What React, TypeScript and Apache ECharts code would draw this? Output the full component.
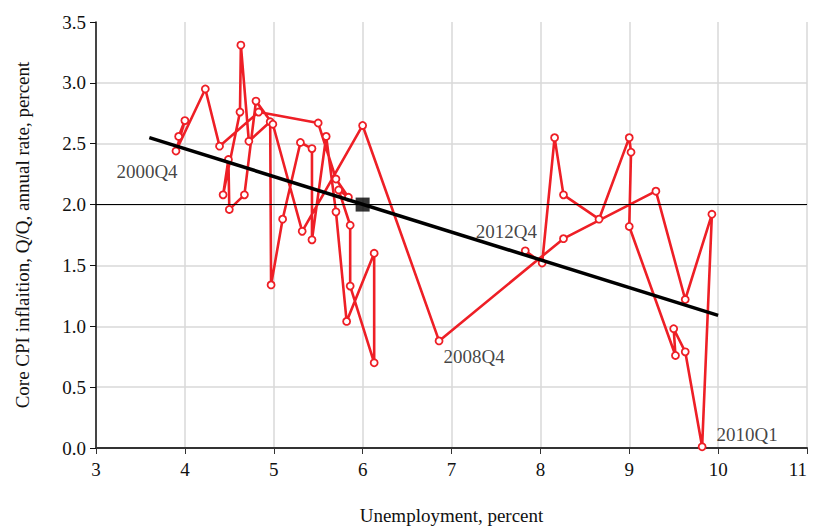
import React, { useEffect, useRef } from "react";
import * as echarts from "echarts";

const quarters = [
  "2000Q2", "2000Q3", "2000Q4",
  "2001Q1", "2001Q2", "2001Q3", "2001Q4",
  "2002Q1", "2002Q2", "2002Q3", "2002Q4",
  "2003Q1", "2003Q2", "2003Q3", "2003Q4",
  "2004Q1", "2004Q2", "2004Q3", "2004Q4",
  "2005Q1", "2005Q2", "2005Q3", "2005Q4",
  "2006Q1", "2006Q2", "2006Q3", "2006Q4",
  "2007Q1", "2007Q2", "2007Q3", "2007Q4",
  "2008Q1", "2008Q2", "2008Q3", "2008Q4",
  "2009Q1", "2009Q2", "2009Q3", "2009Q4",
  "2010Q1", "2010Q2", "2010Q3", "2010Q4",
  "2011Q1", "2011Q2", "2011Q3", "2011Q4",
  "2012Q1", "2012Q2", "2012Q3", "2012Q4",
];

const unemployment = [
  3.93, 4.0, 3.9,
  4.23, 4.39, 4.83, 5.5,
  5.7, 5.84, 5.73, 5.86,
  5.86, 6.13, 6.13, 5.82,
  5.7, 5.59, 5.43, 5.43,
  5.3, 5.1, 4.97, 4.96,
  4.72, 4.63, 4.62, 4.43,
  4.49, 4.5, 4.67, 4.8,
  4.99, 5.32, 6.0, 6.86,
  8.26, 9.3, 9.63, 9.93,
  9.82, 9.63, 9.5, 9.52,
  9.0, 9.02, 9.0, 8.66,
  8.26, 8.16, 8.02, 7.83,
];

const inflation = [
  2.56, 2.69, 2.44,
  2.95, 2.48, 2.76, 2.67,
  2.21, 2.06, 2.12, 1.83,
  1.33, 0.7, 1.6, 1.04,
  1.94, 2.56, 1.71, 2.46,
  2.51, 1.88, 1.34, 2.68,
  2.52, 3.31, 2.76, 2.08,
  2.37, 1.96, 2.08, 2.85,
  2.66, 1.78, 2.65, 0.88,
  1.72, 2.11, 1.22, 1.92,
  0.01, 0.79, 0.98, 0.76,
  1.82, 2.43, 2.55, 1.88,
  2.08, 2.55, 1.52, 1.62,
];

const labeledQuarters = ["2000Q4", "2008Q4", "2010Q1", "2012Q4"];
const labelOffsets: number[][] = [[-29, 20], [35, 16], [45, -12], [-19, -19]];

const trendX = [3.6, 10.0];
const trendY = [2.55, 1.09];

const targetInflation = 2.0;
const anchorPoint = [6.0, 2.0];

const xTicks = { min: 3, max: 11, interval: 1 };
const yTicks = { min: 0, max: 3.5, interval: 0.5 };

const RED = "#ee1f26";
const FONT = "'Liberation Serif', 'DejaVu Serif', serif";
const TEXT = "#111";

export default function App() {
  const ref = useRef<HTMLDivElement>(null);

  useEffect(() => {
    if (!ref.current) return;
    const chart = echarts.init(ref.current, undefined, { renderer: "svg" });

    const pathData = unemployment.map((u, i) => [u, inflation[i]]);
    const labelData = labeledQuarters.map((q, k) => {
      const i = quarters.indexOf(q);
      return {
        value: [unemployment[i], inflation[i]],
        name: q,
        label: { offset: labelOffsets[k] },
      };
    });

    chart.setOption({
      animation: false,
      backgroundColor: "#ffffff",
      textStyle: { fontFamily: FONT },
      grid: {
        left: 96,
        right: 6,
        top: 22,
        bottom: 83,
        containLabel: false,
        outerBoundsMode: "none",
      },
      xAxis: {
        type: "value",
        min: xTicks.min,
        max: xTicks.max,
        interval: xTicks.interval,
        name: "Unemployment, percent",
        nameLocation: "middle",
        nameGap: 58,
        nameTextStyle: { fontFamily: FONT, fontSize: 19, color: TEXT },
        axisLine: { show: true, onZero: false, lineStyle: { color: "#333", width: 2 } },
        axisTick: { show: true, inside: false, length: 6, lineStyle: { color: "#333", width: 1 } },
        axisLabel: {
          fontFamily: FONT,
          fontSize: 19,
          color: TEXT,
          margin: 12,
          alignMaxLabel: "right",
        },
        splitLine: { show: true, lineStyle: { color: "#d9d9d9", width: 1.5 } },
      },
      yAxis: {
        type: "value",
        min: yTicks.min,
        max: yTicks.max,
        interval: yTicks.interval,
        name: "Core CPI inflaition, Q/Q, annual rate, percent",
        nameLocation: "middle",
        nameGap: 64,
        nameTextStyle: { fontFamily: FONT, fontSize: 19, color: TEXT },
        axisLine: { show: true, onZero: false, lineStyle: { color: "#111", width: 1.5 } },
        axisTick: { show: true, inside: false, length: 6, lineStyle: { color: "#111", width: 1 } },
        axisLabel: {
          fontFamily: FONT,
          fontSize: 19,
          color: TEXT,
          margin: 10,
          formatter: (v: number) => v.toFixed(1),
        },
        splitLine: { show: true, showMaxLine: false, lineStyle: { color: "#d9d9d9", width: 1.5 } },
      },
      series: [
        {
          type: "line",
          data: pathData,
          z: 3,
          symbol: "circle",
          symbolSize: 7,
          showAllSymbol: true,
          itemStyle: { color: "#ffffff", borderColor: RED, borderWidth: 1.8 },
          lineStyle: { color: RED, width: 2.6 },
          markLine: {
            silent: true,
            symbol: "none",
            label: { show: false },
            lineStyle: { color: "#000", width: 1.2, type: "solid" },
            data: [{ yAxis: targetInflation }],
            z: 4,
          },
        },
        {
          type: "line",
          data: trendX.map((x, i) => [x, trendY[i]]),
          z: 5,
          symbol: "none",
          lineStyle: { color: "#000", width: 3.5 },
        },
        {
          type: "scatter",
          data: [anchorPoint],
          z: 6,
          symbol: "rect",
          symbolSize: 14,
          itemStyle: { color: "#000" },
        },
        {
          type: "scatter",
          data: labelData,
          z: 7,
          symbolSize: 0.1,
          itemStyle: { color: "transparent" },
          label: {
            show: true,
            position: "inside",
            formatter: (p: any) => p.name,
            fontFamily: FONT,
            fontSize: 19,
            color: TEXT,
            align: "center",
            verticalAlign: "middle",
          },
        },
      ],
    });

    return () => chart.dispose();
  }, []);

  return (
    <div
      ref={ref}
      style={{ position: "fixed", left: 0, top: 0, width: 813, height: 531 }}
    />
  );
}
